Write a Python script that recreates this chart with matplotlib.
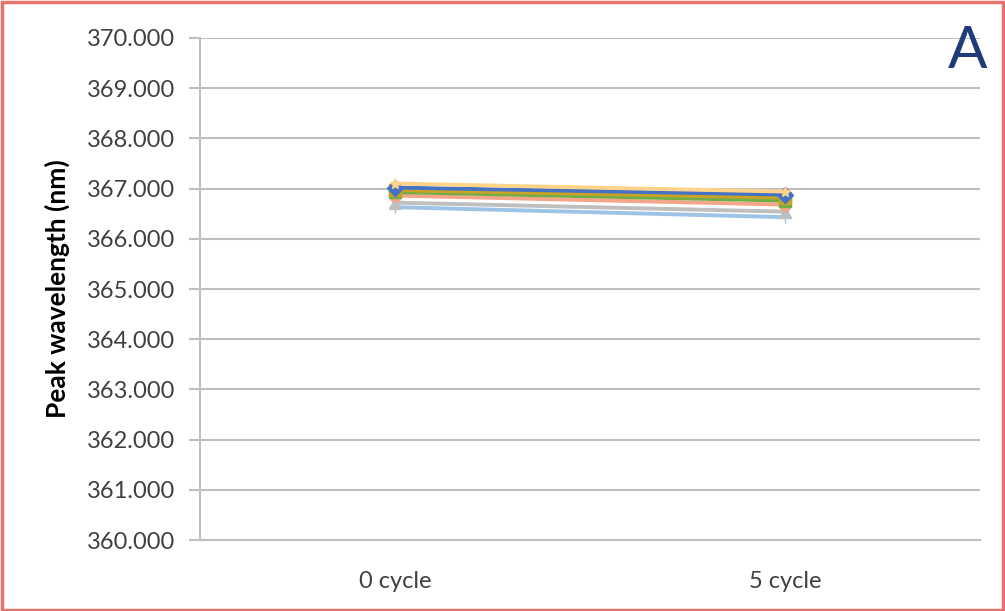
import numpy as np
import matplotlib.pyplot as plt
from matplotlib.patches import Rectangle

plt.rcParams['font.family'] = ['Lato', 'DejaVu Sans']

# Datos
ciclos = ['0 cycle', '5 cycle']

series = {
    'S1': [367.02, 366.88],
    'S2': [366.97, 366.82],
    'S3': [366.93, 366.76],
    'S4': [366.86, 366.68],
    'S5': [366.72, 366.54],
    'S6': [366.63, 366.43],
    'S7': [367.10, 366.94],
}

colores = {
    'S1': '#4472C4',
    'S2': '#C9A227',
    'S3': '#70AD47',
    'S4': '#F4A58A',
    'S5': '#BFBFBF',
    'S6': '#9DC3E6',
    'S7': '#FFD38A',
}
marcadores = {
    'S1': 'D', 'S2': 's', 'S3': 's', 'S4': 'o',
    'S5': '^', 'S6': '+', 'S7': '*',
}
orden = ['S6', 'S5', 'S4', 'S3', 'S2', 'S1', 'S7']

fig = plt.figure(figsize=(10.05, 6.11), dpi=100)
ax = fig.add_axes([0.199, 0.116, 0.776, 0.822])

x = np.arange(len(ciclos))
for nombre in orden:
    ax.plot(x, series[nombre], color=colores[nombre], linewidth=2.8,
            marker=marcadores[nombre], markersize=8, zorder=3)

ax.set_xlim(-0.5, 1.5)
ax.set_ylim(360, 370)
ax.set_yticks(np.arange(360, 371, 1))
ax.set_yticklabels([f'{v:.3f}' for v in np.arange(360, 371, 1)])
ax.set_xticks(x)
ax.set_xticklabels(ciclos)

ax.grid(axis='y', color='#BFBFBF', linewidth=1.5)
ax.set_axisbelow(True)
for lado in ['top', 'right']:
    ax.spines[lado].set_visible(False)
ax.spines['left'].set_color('#BFBFBF')
ax.spines['bottom'].set_color('#BFBFBF')
ax.spines['left'].set_linewidth(1.5)
ax.spines['bottom'].set_linewidth(1.5)
ax.tick_params(axis='y', length=8, width=1.5, color='#BFBFBF',
               labelsize=17, labelcolor='#404040', pad=10)
ax.tick_params(axis='x', length=0, labelsize=17, labelcolor='#404040', pad=22)

ax.set_ylabel('Peak wavelength (nm)', fontsize=19, fontweight='bold',
              color='black', labelpad=12)

fig.text(0.963, 0.915, 'A', fontsize=42, color='#1F3C78', fontweight='normal',
         ha='center', va='center')

# Marco exterior
fig.patches.append(Rectangle((0.002, 0.002), 0.996, 0.994, transform=fig.transFigure,
                             fill=False, edgecolor='#E8736C', linewidth=2.5))

fig.savefig('out.png', dpi=100)
